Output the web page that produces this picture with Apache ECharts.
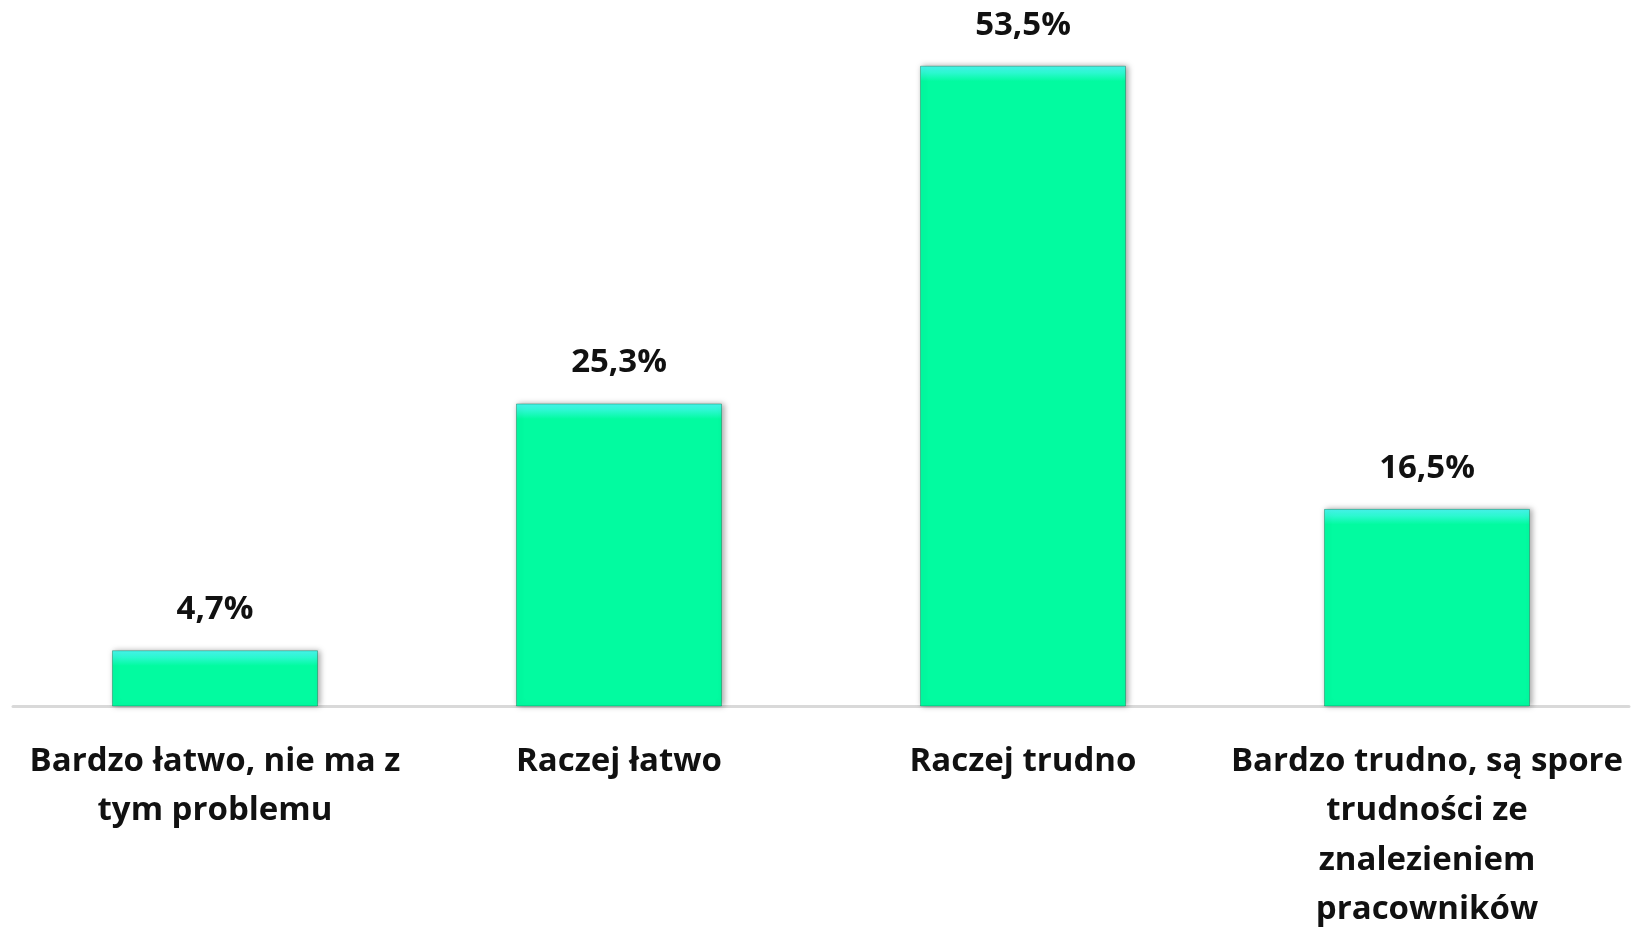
<!DOCTYPE html>
<html>
<head>
<meta charset="utf-8">
<script src="https://cdn.jsdelivr.net/npm/echarts@6/dist/echarts.min.js"></script>
<style>
html,body{margin:0;padding:0;background:#fff;}
#chart{width:1634px;height:927px;}
</style>
</head>
<body>
<div id="chart"></div>
<script>
const categories = [
  "Bardzo łatwo, nie ma z\ntym problemu",
  "Raczej łatwo",
  "Raczej trudno",
  "Bardzo trudno, są spore\ntrudności ze\nznalezieniem\npracowników"
];
const values = [4.7, 25.3, 53.5, 16.5];

const chart = echarts.init(document.getElementById('chart'), null, {renderer: 'canvas'});

function barStyle(v) {
  const stop = Math.min(0.35, 1.3 / v);
  return {
    color: {
      type: 'linear', x: 0, y: 0, x2: 0, y2: 1,
      colorStops: [
        {offset: 0, color: '#48f5ee'},
        {offset: stop * 0.45, color: '#2cf8d0'},
        {offset: stop, color: '#02fba0'},
        {offset: 1, color: '#02fba0'}
      ]
    },
    borderColor: 'rgba(0,110,70,0.4)',
    borderWidth: 1,
    shadowColor: 'rgba(0,0,0,0.35)',
    shadowBlur: 6,
    shadowOffsetX: 2,
    shadowOffsetY: 0
  };
}

chart.setOption({
  animation: false,
  grid: {left: 13, right: 5, top: 59.7, bottom: 220.5, containLabel: false, outerBoundsMode: 'none'},
  xAxis: {
    type: 'category',
    data: categories,
    axisLine: {show: true, lineStyle: {color: '#d9d9d9', width: 3}},
    axisTick: {show: false},
    axisLabel: {
      interval: 0,
      margin: 30,
      color: '#111',
      fontFamily: 'Open Sans',
      fontWeight: 'bold',
      fontSize: 33,
      lineHeight: 49.5,
      align: 'center'
    }
  },
  yAxis: {
    type: 'value',
    min: 0,
    max: 54,
    show: false,
    splitLine: {show: false}
  },
  series: [{
    type: 'bar',
    barWidth: '51%',
    data: values.map(v => ({value: v, itemStyle: barStyle(v)})),
    label: {
      show: true,
      position: 'top',
      distance: 24,
      color: '#111',
      fontFamily: 'Open Sans',
      fontWeight: 'bold',
      fontSize: 33,
      formatter: p => p.value.toFixed(1).replace('.', ',') + '%'
    }
  }]
});
</script>
</body>
</html>
